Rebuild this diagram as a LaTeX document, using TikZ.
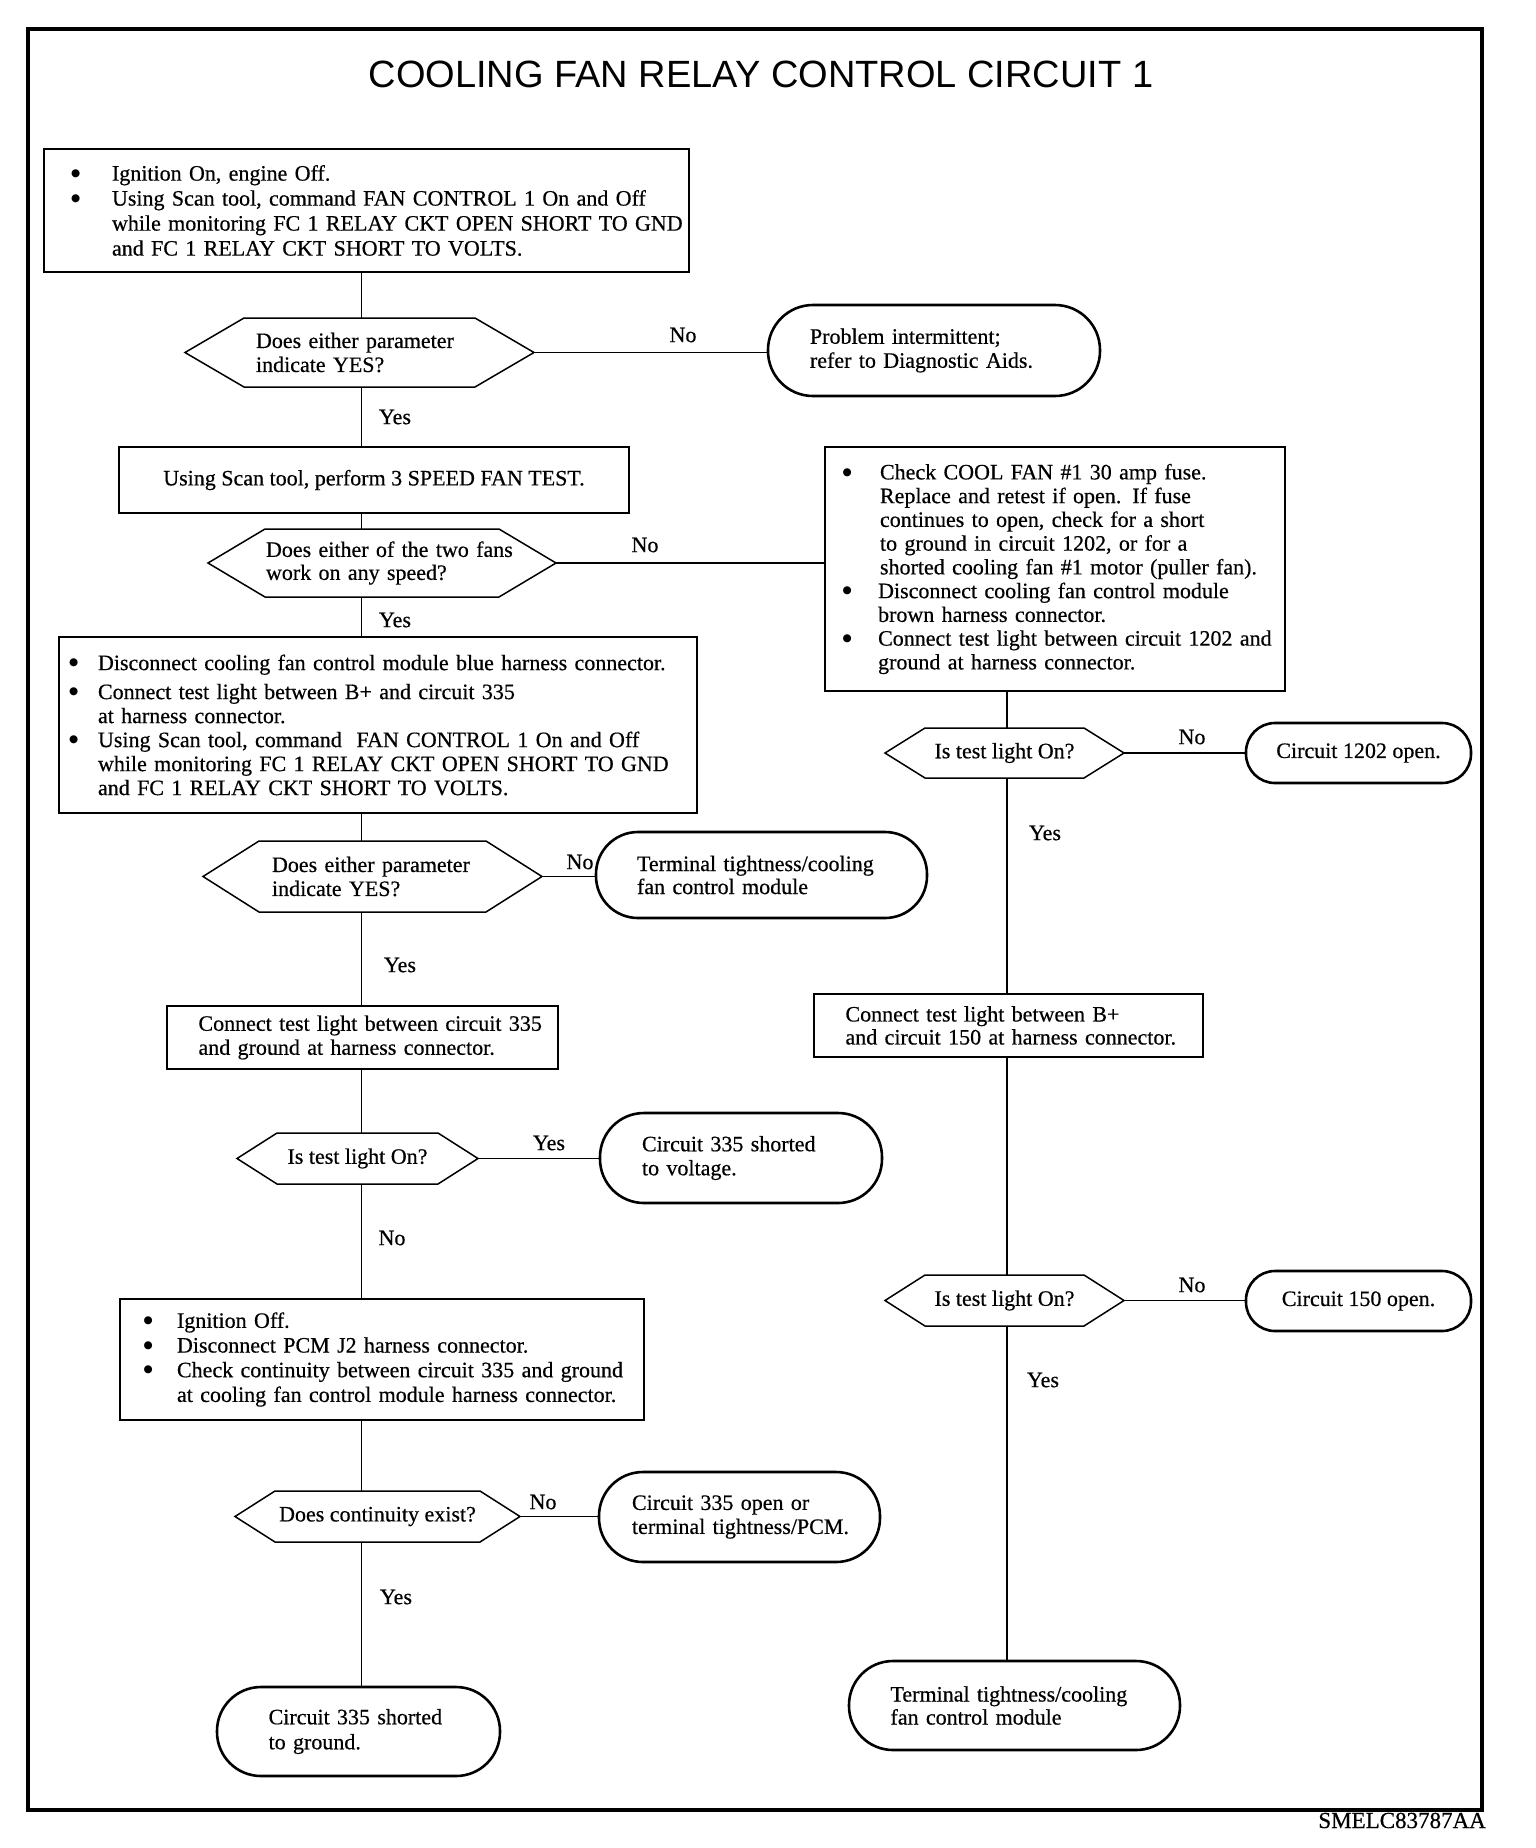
\documentclass[tikz,border=0pt]{standalone}
\usepackage{fontspec}
\setmainfont{Liberation Serif}[FakeBold=0.5]
\newfontfamily\titlefont{Liberation Sans}
\newfontfamily\dotfont{DejaVu Sans}
\setlength{\parindent}{0pt}
\newcommand\bdot{\raisebox{4.3pt}{\dotfont\fontsize{10.5}{10.5}\selectfont ●}}
\newcommand\li[2]{\mbox{\makebox[#1][l]{\hspace*{0.5pt}\bdot}#2}}
\newcommand\lc[2]{\mbox{\hspace*{#1}#2}}
\begin{document}
\begin{tikzpicture}[x=1pt,y=-1pt,
  nbase/.style={inner sep=0pt, outer sep=0pt, font=\fontsize{22}{24}\selectfont},
  pbox/.style={nbase, draw, line width=1.3pt},
  phex/.style={nbase},
  pterm/.style={nbase, draw, line width=2.6pt, rounded corners=#1},
  plbl/.style={font=\fontsize{22}{24}\selectfont, inner sep=0pt},
  pconn/.style={line width=1.3pt},
  hexline/.style={line width=1.5pt, line join=miter},
  frameline/.style={line width=4.3pt}]
\useasboundingbox (0,0) rectangle (1536,1848);
\draw[frameline] (28,29) rectangle (1482,1810);

\node[font=\titlefont\fontsize{38}{40}\selectfont, anchor=base, inner sep=0pt] (title) at (761,87) {COOLING FAN RELAY CONTROL CIRCUIT 1};
\node[font=\fontsize{23}{24}\selectfont, anchor=base east, inner sep=0pt] (code) at (1486,1828) {SMELC83787AA};

\coordinate (spineL) at (361.5,0);
\coordinate (spineR) at (1007,0);

% left column
\node[pbox, font=\fontsize{22}{25}\selectfont, minimum width=645pt, minimum height=123pt, text width=591.8pt] (b1) at (366.5,210.5) {%
\li{41.4pt}{Ignition On, engine Off.}\\
\li{41.4pt}{Using Scan tool, command FAN CONTROL 1 On and Off}\\
\lc{41.4pt}{while monitoring FC 1 RELAY CKT OPEN SHORT TO GND}\\
\lc{41.4pt}{and FC 1 RELAY CKT SHORT TO VOLTS.}};

\node[phex, minimum width=349pt, minimum height=69pt, text width=207pt] (d1) at (359.5,352.5) {%
\mbox{Does either parameter}\\ \mbox{indicate YES?}};

\node[pterm=45pt, minimum width=332pt, minimum height=91pt, text width=248pt] (t1) at (934,350.5) {%
\mbox{Problem intermittent;}\\ \mbox{refer to Diagnostic Aids.}};

\node[pbox, minimum width=510pt, minimum height=66pt] (b2) at (374,480) {Using Scan tool, perform 3 SPEED FAN TEST.};

\node[phex, font=\fontsize{22}{23}\selectfont, minimum width=348pt, minimum height=68pt, text width=232pt] (d2) at (382,563) {%
\mbox{Does either of the two fans}\\ \mbox{work on any speed?}};

\node[pbox, minimum width=638pt, minimum height=176pt, text width=618.8pt] (b4) at (378,725) {%
\li{29.4pt}{Disconnect cooling fan control module blue harness connector.}\\[5pt]
\li{29.4pt}{Connect test light between B+ and circuit 335}\\
\lc{29.4pt}{at harness connector.}\\
\li{29.4pt}{Using Scan tool, command\ \ FAN CONTROL 1 On and Off}\\
\lc{29.4pt}{while monitoring FC 1 RELAY CKT OPEN SHORT TO GND}\\
\lc{29.4pt}{and FC 1 RELAY CKT SHORT TO VOLTS.}};

\node[phex, minimum width=339pt, minimum height=71pt, text width=201pt] (d3) at (372.5,876.5) {%
\mbox{Does either parameter}\\ \mbox{indicate YES?}};

\node[pterm=42pt, font=\fontsize{22}{23}\selectfont, minimum width=331pt, minimum height=86pt, text width=249pt] (t2) at (761.5,875) {%
\mbox{Terminal tightness/cooling}\\ \mbox{fan control module}};

\node[pbox, minimum width=391pt, minimum height=63pt, text width=328pt] (b5) at (362.5,1037.5) {%
\mbox{Connect test light between circuit 335}\\ \mbox{and ground at harness connector.}};

\node[phex, minimum width=241pt, minimum height=51pt] (d4) at (357.5,1158.5) {Is test light On?};

\node[pterm=44pt, minimum width=282pt, minimum height=90pt, text width=198pt] (t3) at (741,1158) {%
\mbox{Circuit 335 shorted}\\ \mbox{to voltage.}};

\node[pbox, font=\fontsize{22}{24.7}\selectfont, minimum width=524pt, minimum height=121pt, text width=477.8pt] (b6) at (382,1359.5) {%
\li{33.9pt}{Ignition Off.}\\
\li{33.9pt}{Disconnect PCM J2 harness connector.}\\
\li{33.9pt}{Check continuity between circuit 335 and ground}\\
\lc{33.9pt}{at cooling fan control module harness connector.}};

\node[phex, minimum width=285pt, minimum height=51pt] (d5) at (377.5,1516.5) {Does continuity exist?};

\node[pterm=44pt, minimum width=281pt, minimum height=90pt, text width=215pt] (t4) at (739.5,1517) {%
\mbox{Circuit 335 open or}\\ \mbox{terminal tightness/PCM.}};

\node[pterm=44pt, font=\fontsize{22}{25}\selectfont, minimum width=283pt, minimum height=89pt, text width=179.8pt] (t5) at (358.5,1731.5) {%
\mbox{Circuit 335 shorted}\\ \mbox{to ground.}};

% right column
\node[pbox, font=\fontsize{22}{23.75}\selectfont, minimum width=460pt, minimum height=244pt, text width=425.8pt] (b3) at (1055,569) {%
\li{37.9pt}{Check COOL FAN \#1 30 amp fuse.}\\
\lc{37.9pt}{Replace and retest if open. If fuse}\\
\lc{37.9pt}{continues to open, check for a short}\\
\lc{37.9pt}{to ground in circuit 1202, or for a}\\
\lc{37.9pt}{shorted cooling fan \#1 motor (puller fan).}\\
\li{36pt}{Disconnect cooling fan control module}\\
\lc{36pt}{brown harness connector.}\\
\li{36pt}{Connect test light between circuit 1202 and}\\
\lc{36pt}{ground at harness connector.}};

\node[phex, minimum width=239pt, minimum height=50pt] (d6) at (1004.5,753) {Is test light On?};
\node[pterm=29pt, minimum width=225pt, minimum height=60pt] (t6) at (1358.5,753) {Circuit 1202 open.};

\node[pbox, font=\fontsize{22}{23}\selectfont, minimum width=389pt, minimum height=63pt, text width=326pt] (b7) at (1008.5,1025.5) {%
\mbox{Connect test light between B+}\\ \mbox{and circuit 150 at harness connector.}};

\node[phex, minimum width=239pt, minimum height=51pt] (d7) at (1004.5,1300.5) {Is test light On?};
\node[pterm=29pt, minimum width=225pt, minimum height=60pt] (t7) at (1358.5,1301) {Circuit 150 open.};

\node[pterm=44pt, font=\fontsize{22}{23}\selectfont, minimum width=331pt, minimum height=89pt, text width=248pt] (t8) at (1014.5,1705.5) {%
\mbox{Terminal tightness/cooling}\\ \mbox{fan control module}};

% hexagon outlines
\foreach \n/\s in {d1/59,d2/57,d3/56,d4/40,d5/40,d6/40,d7/40}
  \draw[hexline] (\n.west) -- ([xshift=\s pt]\n.north west) -- ([xshift=-\s pt]\n.north east)
     -- (\n.east) -- ([xshift=-\s pt]\n.south east) -- ([xshift=\s pt]\n.south west) -- cycle;

% connectors left spine
\draw[pconn] (b1.south -| spineL) -- (d1.north -| spineL);
\draw[pconn] (d1.south -| spineL) -- (b2.north -| spineL);
\draw[pconn] (b2.south -| spineL) -- (d2.north -| spineL);
\draw[pconn] (d2.south -| spineL) -- (b4.north -| spineL);
\draw[pconn] (b4.south -| spineL) -- (d3.north -| spineL);
\draw[pconn] (d3.south -| spineL) -- (b5.north -| spineL);
\draw[pconn] (b5.south -| spineL) -- (d4.north -| spineL);
\draw[pconn] (d4.south -| spineL) -- (b6.north -| spineL);
\draw[pconn] (b6.south -| spineL) -- (d5.north -| spineL);
\draw[pconn] (d5.south -| spineL) -- (t5.north -| spineL);
% right spine
\draw[pconn] (b3.south -| spineR) -- (d6.north -| spineR);
\draw[pconn] (d6.south -| spineR) -- (b7.north -| spineR);
\draw[pconn] (b7.south -| spineR) -- (d7.north -| spineR);
\draw[pconn] (d7.south -| spineR) -- (t8.north -| spineR);
% horizontal
\draw[pconn] (d1.east) -- (d1.east -| t1.west);
\draw[pconn] (d2.east) -- (d2.east -| b3.west);
\draw[pconn] (d3.east) -- (d3.east -| t2.west);
\draw[pconn] (d4.east) -- (d4.east -| t3.west);
\draw[pconn] (d5.east) -- (d5.east -| t4.west);
\draw[pconn] (d6.east) -- (d6.east -| t6.west);
\draw[pconn] (d7.east) -- (d7.east -| t7.west);

% labels
\node[plbl] (l1) at (683,335) {No};
\node[plbl] (l2) at (395,417) {Yes};
\node[plbl] (l3) at (645,545) {No};
\node[plbl] (l4) at (395,620) {Yes};
\node[plbl] (l5) at (580,862) {No};
\node[plbl] (l6) at (400,965) {Yes};
\node[plbl] (l7) at (549,1143) {Yes};
\node[plbl] (l8) at (392,1238) {No};
\node[plbl] (l9) at (543,1502) {No};
\node[plbl] (l10) at (396,1597) {Yes};
\node[plbl] (l11) at (1192,737) {No};
\node[plbl] (l12) at (1045,833) {Yes};
\node[plbl] (l13) at (1192,1285) {No};
\node[plbl] (l14) at (1043,1380) {Yes};
\end{tikzpicture}
\end{document}
